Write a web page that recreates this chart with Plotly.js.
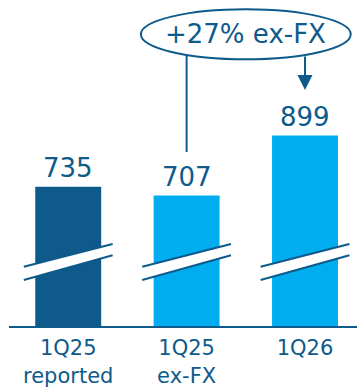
<!DOCTYPE html>
<html>
<head>
<meta charset="utf-8">
<script src="https://cdn.plot.ly/plotly-3.0.1.min.js"></script>
<style>html,body{margin:0;padding:0;background:#fff;}#chart{width:357px;height:390px;}</style>
</head>
<body>
<div id="chart"></div>
<script>
// ---- data ----
const categories = ['1Q25<br>reported', '1Q25<br>ex-FX', '1Q26'];
const values = [735, 707, 899];
const valueLabels = ['735', '707', '899'];
const growthLabel = '+27% ex-FX';

// ---- styling ----
const DARK = '#0d5a8b';
const LIGHT = '#00aeef';
const barColors = [DARK, LIGHT, LIGHT];
const FONT = 'DejaVu Sans';

// axis scale (axis is broken, starts above zero)
const plotH = 326;
const yMin = 289.5;
const pxPerUnit = 0.3125;
const yMax = yMin + plotH / pxPerUnit;
function py(p) { return yMin + (plotH - p) / pxPerUnit; }

const xs = categories.map((c, i) => i);

const trace = {
  type: 'bar',
  x: xs,
  y: values,
  width: 0.557,
  marker: { color: barColors, line: { width: 0 } },
  hoverinfo: 'none',
  cliponaxis: true
};

const shapes = [];
// axis break marks
xs.forEach(i => {
  const x0 = i - 0.375, x1 = i + 0.375;
  const uL = py(266.7), uR = py(244), lL = py(280), lR = py(255.3);
  shapes.push({ type: 'path', xref: 'x', yref: 'y',
    path: `M${x0},${uL} L${x1},${uR} L${x1},${lR} L${x0},${lL} Z`,
    fillcolor: '#ffffff', line: { width: 0 } });
  shapes.push({ type: 'line', xref: 'x', yref: 'y', x0: x0, y0: uL, x1: x1, y1: uR, line: { color: DARK, width: 2 } });
  shapes.push({ type: 'line', xref: 'x', yref: 'y', x0: x0, y0: lL, x1: x1, y1: lR, line: { color: DARK, width: 2 } });
});
// growth ellipse
shapes.push({ type: 'circle', xref: 'x', yref: 'y', x0: 0.614, x1: 2.386, y0: py(59.3), y1: py(9.3),
  line: { color: DARK, width: 2 }, fillcolor: 'rgba(0,0,0,0)' });
// connector from ellipse to bar 2 label
shapes.push({ type: 'line', xref: 'x', yref: 'y', x0: 1, x1: 1, y0: py(55), y1: py(152), line: { color: DARK, width: 2 } });

const annotations = values.map((v, i) => ({
  x: i, y: v, xref: 'x', yref: 'y', text: valueLabels[i], showarrow: false,
  yanchor: 'bottom', yshift: 2,
  font: { family: FONT, size: 26, color: DARK }
}));
annotations.push({
  x: 1.5, y: py(34.3), xref: 'x', yref: 'y', text: growthLabel, showarrow: false,
  yanchor: 'middle', font: { family: FONT, size: 26, color: DARK }
});
annotations.push({
  x: 2, y: py(90), xref: 'x', yref: 'y', ax: 2, ay: py(55), axref: 'x', ayref: 'y',
  text: '', showarrow: true, arrowhead: 2, arrowsize: 1.5, arrowwidth: 2, arrowcolor: DARK
});

const layout = {
  width: 357, height: 390,
  margin: { l: 9, r: 0, t: 0, b: 64 },
  paper_bgcolor: '#ffffff', plot_bgcolor: '#ffffff',
  showlegend: false,
  xaxis: {
    range: [-0.5, 2.439], tickvals: xs, ticktext: categories,
    showline: true, linecolor: DARK, linewidth: 2, ticks: '',
    ticklabelstandoff: 2,
    showgrid: false, zeroline: false, fixedrange: true,
    tickfont: { family: FONT, size: 21, color: DARK }
  },
  yaxis: { range: [yMin, yMax], visible: false, fixedrange: true },
  shapes: shapes,
  annotations: annotations
};

Plotly.newPlot('chart', [trace], layout, { staticPlot: true, displayModeBar: false });
</script>
</body>
</html>
